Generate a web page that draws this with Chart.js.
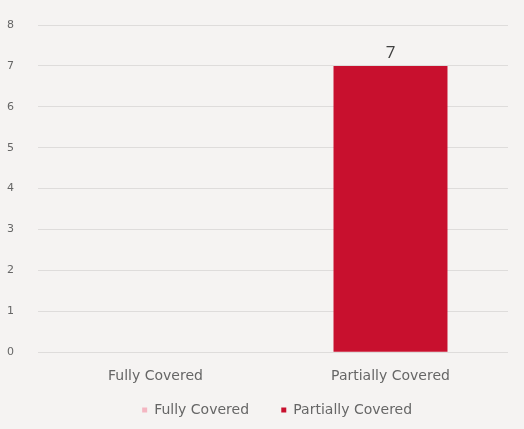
<!DOCTYPE html>
<html>
<head>
<meta charset="utf-8">
<script src="https://cdn.jsdelivr.net/npm/chart.js@4"></script>
<style>
  html, body { margin: 0; padding: 0; background: #f5f3f2; }
  #wrap { width: 524px; height: 429px; position: relative; }
</style>
</head>
<body>
<div id="wrap"><canvas id="grafico"></canvas></div>
<script>
// Datos del gráfico
const categorias = ["Fully Covered", "Partially Covered"];
const serieNombres = ["Fully Covered", "Partially Covered"];
const valoresFully = [0, null];
const valoresPartially = [null, 7];
const colores = ["#f4b6c2", "#c8102e"];

// Etiqueta de valor encima de la barra
const etiquetasValor = {
  id: 'etiquetasValor',
  afterDatasetsDraw(chart) {
    const ctx = chart.ctx;
    ctx.save();
    ctx.font = '17px "Open Sans", sans-serif';
    ctx.fillStyle = '#404040';
    ctx.textAlign = 'center';
    ctx.textBaseline = 'bottom';
    chart.data.datasets.forEach((ds, i) => {
      const meta = chart.getDatasetMeta(i);
      meta.data.forEach((bar, j) => {
        const v = ds.data[j];
        if (v === null || v === 0) return;
        ctx.fillText(v, bar.x, bar.y - 4);
      });
    });
    ctx.restore();
  }
};

const fuente = '"DejaVu Sans", sans-serif';

// Leyenda: hueco extra entre entradas y un poco desplazada a la derecha
function etiquetasLeyenda(chart) {
  const items = Chart.defaults.plugins.legend.labels.generateLabels(chart)
    .map((l, i) => ({ ...l, text: i === 0 ? l.text + '     ' : l.text }));
  const vacio = { text: '     ', fillStyle: 'rgba(0,0,0,0)', strokeStyle: 'rgba(0,0,0,0)', lineWidth: 0, hidden: false, datasetIndex: -1 };
  return [vacio, ...items];
}

new Chart(document.getElementById("grafico"), {
  type: 'bar',
  data: {
    labels: categorias,
    datasets: [
      { label: serieNombres[0], data: valoresFully, backgroundColor: colores[0], grouped: false, barPercentage: 0.485, categoryPercentage: 1 },
      { label: serieNombres[1], data: valoresPartially, backgroundColor: colores[1], grouped: false, barPercentage: 0.485, categoryPercentage: 1 }
    ]
  },
  options: {
    responsive: true,
    maintainAspectRatio: false,
    animation: false,
    layout: { padding: { left: 2, right: 16, top: 25, bottom: 2 } },
    plugins: {
      legend: {
        position: 'bottom',
        labels: {
          boxWidth: 5, boxHeight: 5, padding: 10,
          color: '#666666',
          font: { family: fuente, size: 14 },
          generateLabels: etiquetasLeyenda
        }
      },
      tooltip: { enabled: false }
    },
    scales: {
      y: {
        min: 0, max: 8,
        afterFit: (scale) => { scale.width = 36; scale.paddingTop = 0; },
        ticks: { stepSize: 1, color: '#666666', padding: 24, font: { family: fuente, size: 11 } },
        grid: { color: '#dedcdb', drawTicks: false },
        border: { display: false }
      },
      x: {
        ticks: { color: '#666666', padding: 8, font: { family: fuente, size: 14 } },
        grid: { display: false },
        border: { display: false }
      }
    }
  },
  plugins: [etiquetasValor]
});
</script>
</body>
</html>
